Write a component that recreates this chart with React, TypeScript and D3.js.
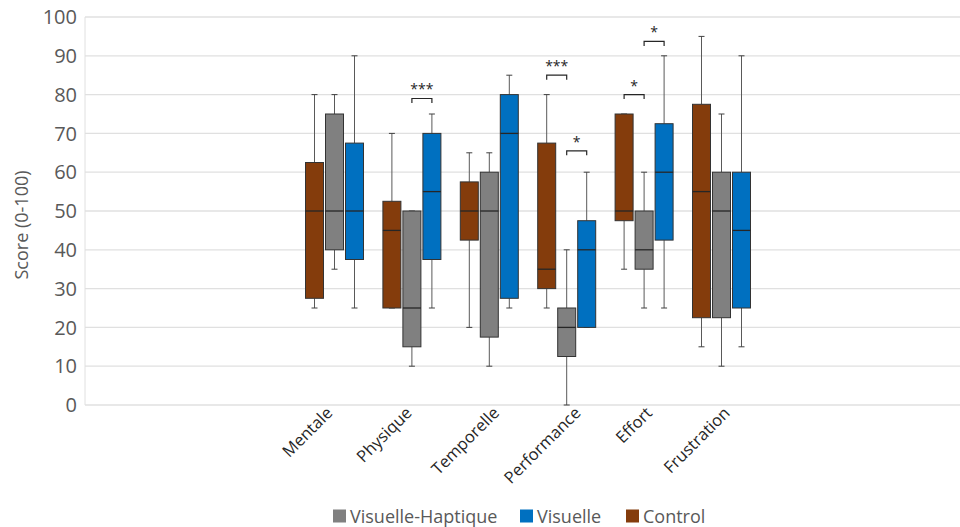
import React from "react";
import * as d3 from "d3";

const categories = ["Mentale", "Physique", "Temporelle", "Performance", "Effort", "Frustration"];
const seriesNames = ["Control", "Visuelle-Haptique", "Visuelle"];
const seriesColors = ["#843C0C", "#808080", "#0070C0"];
const legendOrder = ["Visuelle-Haptique", "Visuelle", "Control"];
const yTicks = [0, 10, 20, 30, 40, 50, 60, 70, 80, 90, 100];

// [min, q1, median, q3, max] per category
const controlStats = [
  [25, 27.5, 50, 62.5, 80],
  [25, 25, 45, 52.5, 70],
  [20, 42.5, 50, 57.5, 65],
  [25, 30, 35, 67.5, 80],
  [35, 47.5, 50, 75, 75],
  [15, 22.5, 55, 77.5, 95],
];
const hapticStats = [
  [35, 40, 50, 75, 80],
  [10, 15, 25, 50, 50],
  [10, 17.5, 50, 60, 65],
  [0, 12.5, 20, 25, 40],
  [25, 35, 40, 50, 60],
  [10, 22.5, 50, 60, 75],
];
const visualStats = [
  [25, 37.5, 50, 67.5, 90],
  [25, 37.5, 55, 70, 75],
  [25, 27.5, 70, 80, 85],
  [20, 20, 40, 47.5, 60],
  [25, 42.5, 60, 72.5, 90],
  [15, 25, 45, 60, 90],
];

const bracketCats = ["Physique", "Performance", "Performance", "Effort", "Effort"];
const bracketFrom = ["Visuelle-Haptique", "Control", "Visuelle-Haptique", "Control", "Visuelle-Haptique"];
const bracketTo = ["Visuelle", "Visuelle-Haptique", "Visuelle", "Visuelle-Haptique", "Visuelle"];
const bracketLevels = [79, 85, 65.5, 80, 93.7];
const bracketLabels = ["***", "***", "*", "*", "*"];

const FONT = "'Open Sans', 'Noto Sans', sans-serif";

export default function App() {
  const W = 960;
  const H = 527;
  const y = d3.scaleLinear().domain([0, 100]).range([405, 17]);
  const x = d3.scaleBand<string>().domain(categories).range([295.8, 760.2]);
  const inner = d3
    .scaleBand<string>()
    .domain(seriesNames)
    .range([9.7, 9.7 + 58])
    .paddingInner(0.1);
  const allStats = [controlStats, hapticStats, visualStats];
  const bw = inner.bandwidth();
  const cx = (cat: string, s: string) => (x(cat) as number) + (inner(s) as number) + bw / 2;
  const labelShift = [-1, 1, 11, 15, 9, 9.5];

  return (
    <svg width={W} height={H} style={{ position: "absolute", left: 0, top: 0, background: "#fff" }}>
      {/* gridlines */}
      {yTicks.map((t) => (
        <line key={"g" + t} x1={85} x2={W} y1={y(t)} y2={y(t)} stroke="#e0e0e0" strokeWidth={1.3} />
      ))}
      <line x1={85} x2={85} y1={y(100)} y2={y(0)} stroke="#e0e0e0" strokeWidth={1} />
      {/* y tick labels */}
      {yTicks.map((t) => (
        <text
          key={"t" + t}
          x={77}
          y={y(t)}
          dy="0.36em"
          textAnchor="end"
          fontFamily={FONT}
          fontSize={20}
          fill="#595959"
        >
          {t}
        </text>
      ))}
      <text
        transform={`translate(28,225) rotate(-90)`}
        textAnchor="middle"
        fontFamily={FONT}
        fontSize={18}
        fill="#595959"
      >
        Score (0-100)
      </text>
      {/* boxes */}
      {categories.map((cat, ci) =>
        seriesNames.map((s, si) => {
          const [mn, q1, med, q3, mx] = allStats[si][ci];
          const left = (x(cat) as number) + (inner(s) as number);
          const c = left + bw / 2;
          return (
            <g key={cat + s}>
              <line x1={c} x2={c} y1={y(mx)} y2={y(q3)} stroke="#595959" strokeWidth={1} />
              <line x1={c} x2={c} y1={y(q1)} y2={y(mn)} stroke="#595959" strokeWidth={1} />
              <line x1={c - 3} x2={c + 3} y1={y(mx)} y2={y(mx)} stroke="#404040" strokeWidth={1} />
              <line x1={c - 3} x2={c + 3} y1={y(mn)} y2={y(mn)} stroke="#404040" strokeWidth={1} />
              <rect
                x={left}
                y={y(q3)}
                width={bw}
                height={y(q1) - y(q3)}
                fill={seriesColors[si]}
                stroke="#333333"
                strokeWidth={1}
              />
              <line x1={left} x2={left + bw} y1={y(med)} y2={y(med)} stroke="#262626" strokeWidth={1.3} />
            </g>
          );
        })
      )}
      {/* significance brackets */}
      {bracketCats.map((cat, i) => {
        const x1 = cx(cat, bracketFrom[i]);
        const x2 = cx(cat, bracketTo[i]);
        const yy = y(bracketLevels[i]);
        return (
          <g key={"b" + i}>
            <path
              d={`M${x1},${yy + 4.5}V${yy}H${x2}V${yy + 4.5}`}
              fill="none"
              stroke="#262626"
              strokeWidth={1.2}
            />
            <text
              x={(x1 + x2) / 2}
              y={yy - 4}
              textAnchor="middle"
              fontFamily={FONT}
              fontSize={14}
              fill="#262626"
            >
              {bracketLabels[i]}
            </text>
          </g>
        );
      })}
      {/* x labels */}
      {categories.map((cat, i) => (
        <text
          key={"x" + cat}
          transform={`translate(${(x(cat) as number) + x.bandwidth() / 2 + labelShift[i]},${414}) rotate(-45)`}
          textAnchor="end"
          fontFamily={FONT}
          fontSize={16.5}
          fill="#262626"
        >
          {cat}
        </text>
      ))}
      {/* legend */}
      {(() => {
        const xs = [333, 520, 626];
        return legendOrder.map((name, i) => {
          const si = seriesNames.indexOf(name);
          return (
            <g key={"l" + name}>
              <rect x={xs[i]} y={509.5} width={13} height={13} fill={seriesColors[si]} />
              <text x={xs[i] + 17} y={522.5} fontFamily={FONT} fontSize={18} fill="#595959">
                {name}
              </text>
            </g>
          );
        });
      })()}
    </svg>
  );
}
